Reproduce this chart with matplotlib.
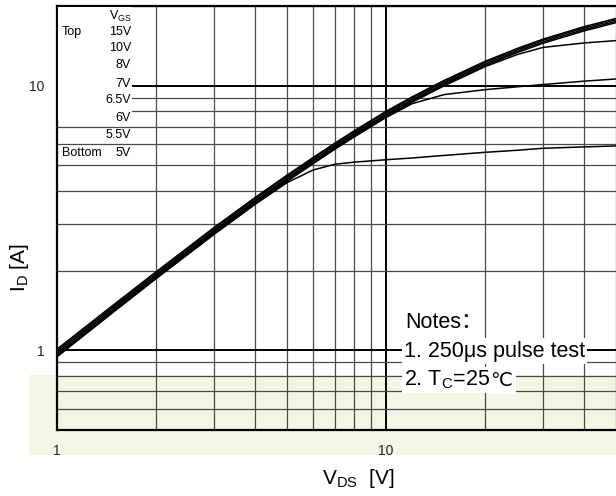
import matplotlib
matplotlib.use('Agg')
from matplotlib import pyplot as plt
from matplotlib.patches import Rectangle
from matplotlib.ticker import FixedLocator, NullFormatter, LogLocator

plt.rcParams['font.family'] = ['Liberation Sans', 'DejaVu Sans']
plt.rcParams['mathtext.fontset'] = 'custom'
plt.rcParams['mathtext.rm'] = 'Liberation Sans'

# drain-source voltage [V] where the curves were read
vds = [1, 1.5, 2, 3, 4, 5, 6, 7, 8, 10, 12, 15, 20, 25, 30, 40, 50]

# drain current [A] for each gate voltage
id_15v = [1.01, 1.50, 1.98, 2.91, 3.78, 4.59, 5.35, 6.07, 6.75, 8.00, 9.07, 10.46, 12.36, 13.81, 14.99, 16.71, 17.95]
id_10v = [0.995, 1.48, 1.955, 2.875, 3.735, 4.535, 5.29, 6.00, 6.68, 7.91, 8.97, 10.34, 12.22, 13.66, 14.83, 16.52, 17.74]
id_8v = [0.98, 1.46, 1.93, 2.835, 3.68, 4.47, 5.22, 5.92, 6.59, 7.80, 8.85, 10.21, 12.06, 13.48, 14.63, 16.30, 17.50]
id_7v = [0.965, 1.44, 1.905, 2.80, 3.64, 4.42, 5.15, 5.85, 6.51, 7.71, 8.75, 10.09, 11.92, 13.32, 14.46, 16.11, 17.30]
id_65v = [0.955, 1.425, 1.885, 2.77, 3.60, 4.37, 5.10, 5.79, 6.44, 7.63, 8.66, 9.98, 11.8, 13.1, 13.95, 14.5, 14.8]
id_6v = [0.95, 1.415, 1.875, 2.755, 3.58, 4.35, 5.07, 5.76, 6.40, 7.58, 8.55, 9.25, 9.66, 9.9, 10.1, 10.4, 10.6]
id_5v = [0.945, 1.41, 1.865, 2.74, 3.56, 4.30, 4.80, 5.05, 5.14, 5.25, 5.33, 5.45, 5.6, 5.7, 5.8, 5.87, 5.92]
curves = [id_15v, id_10v, id_8v, id_7v, id_65v, id_6v, id_5v]

vgs_labels = ['15V', '10V', '8V', '7V', '6.5V', '6V', '5.5V', '5V']

W, H = 616, 496
fig = plt.figure(figsize=(W / 100, H / 100), dpi=100)


def fx(px):
    return px / W


def fy(py):
    return 1 - py / H


# pale band behind the bottom of the chart
fig.add_artist(Rectangle((fx(29), fy(455)), fx(616 - 29), 80 / H, transform=fig.transFigure,
                         facecolor='#f4f5e4', edgecolor='none', zorder=-5))

ax = fig.add_axes([fx(57), fy(430), fx(616 - 57), (430 - 6) / H])
ax.set_facecolor('none')
ax.set_xscale('log')
ax.set_yscale('log')
ax.set_xlim(1, 50)
ax.set_ylim(0.5, 20)

for c in curves:
    ax.plot(vds, c, color='black', lw=1.1, zorder=3)

ax.set_axisbelow(True)
ax.xaxis.set_major_locator(FixedLocator([1, 10]))
ax.yaxis.set_major_locator(FixedLocator([1, 10]))
ax.xaxis.set_minor_locator(LogLocator(base=10, subs=range(2, 10)))
ax.yaxis.set_minor_locator(LogLocator(base=10, subs=range(2, 10)))
ax.xaxis.set_minor_formatter(NullFormatter())
ax.yaxis.set_minor_formatter(NullFormatter())
ax.set_xticklabels(['1', '10'])
ax.set_yticklabels(['1', '10'])
ax.grid(which='major', color='black', lw=1.4)
ax.grid(which='minor', color='#4a4a4a', lw=0.9)
ax.tick_params(which='both', length=0, labelsize=10, colors='#222222')
ax.tick_params(axis='x', pad=10)
ax.tick_params(axis='y', pad=9)

for s in ['top', 'left', 'bottom']:
    ax.spines[s].set_linewidth(1.6)
ax.spines['right'].set_visible(False)

# white box behind the legend column
fig.add_artist(Rectangle((fx(58), fy(121)), fx(132 - 58), (121 - 7) / H, transform=fig.transFigure,
                         facecolor='white', edgecolor='none', zorder=2))

fig.text(fx(120), fy(16), r'V$_\mathregular{GS}$', fontsize=9, ha='center', va='center', zorder=4)
fig.text(fx(62), fy(32), 'Top', fontsize=9, ha='left', va='center', zorder=4)
fig.text(fx(62), fy(153), 'Bottom', fontsize=9, ha='left', va='center', zorder=4)
label_y = [32, 48, 65, 84, 100, 118, 135, 153]
for lab, py in zip(vgs_labels, label_y):
    fig.text(fx(131), fy(py), lab, fontsize=9, ha='right', va='center', zorder=4)

box = dict(facecolor='white', edgecolor='none', pad=1.5)
fig.text(fx(405), fy(322), 'Notes：', fontsize=15.5, ha='left', va='center',
         family=['Liberation Sans', 'Noto Sans CJK SC', 'DejaVu Sans'], zorder=4)
fig.text(fx(404), fy(351), '1. 250μs pulse test', fontsize=15.5, ha='left', va='center', bbox=box, zorder=4)
note2 = fig.text(fx(404), fy(380), r'2. T$_\mathregular{C}$=25', fontsize=15.5, ha='left', va='center',
                 bbox=box, zorder=4)
fig.add_artist(plt.Annotation('℃', xy=(1, 0.5), xycoords=note2, ha='left', va='center', fontsize=14,
                              family=['DejaVu Sans'], bbox=dict(facecolor='white', edgecolor='none', pad=3),
                              zorder=4))

fig.text(fx(358), fy(478), r'V$_\mathregular{DS}$  [V]', fontsize=15, ha='center', va='center')
fig.text(fx(20), fy(268), r'I$_\mathregular{D}$ [A]', fontsize=15, ha='center', va='center', rotation=90)

fig.savefig('out.png', dpi=100)
